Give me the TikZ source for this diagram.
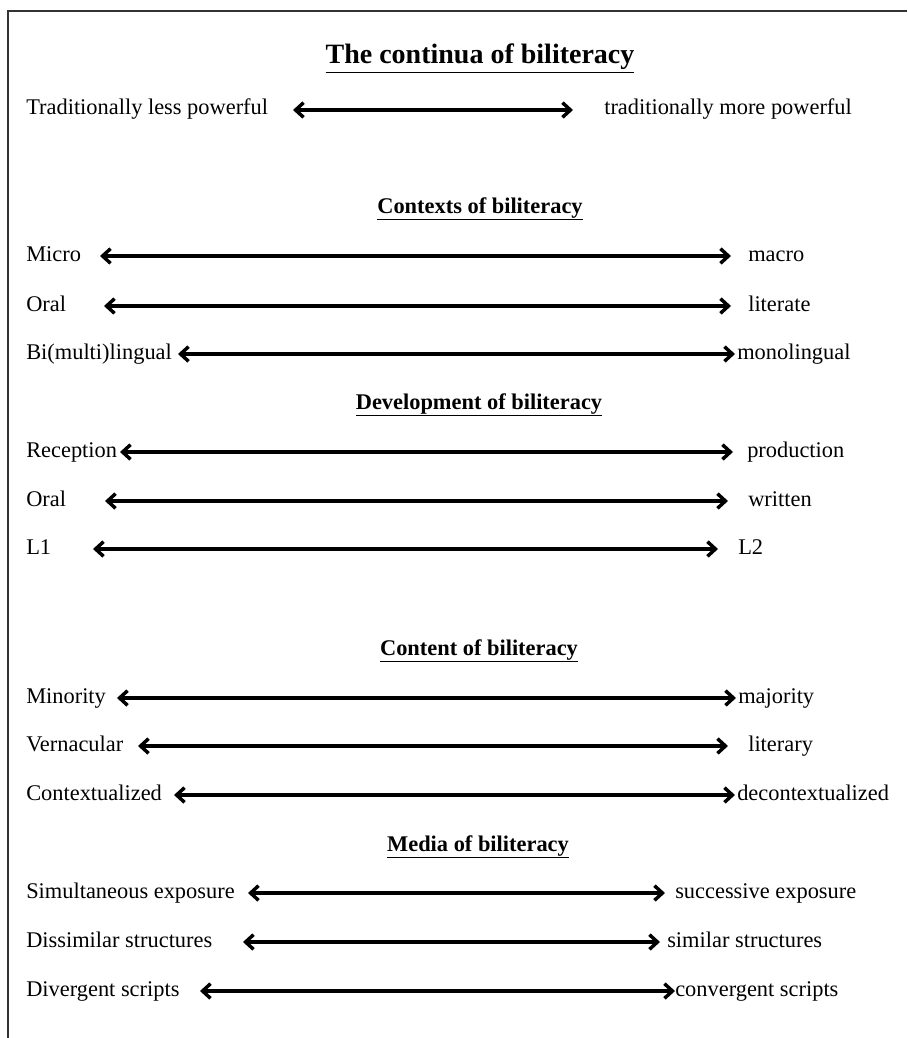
\documentclass[tikz,border=0pt]{standalone}
\usepackage{fontspec}
\setmainfont{Liberation Serif}
\usetikzlibrary{arrows.meta}
\begin{document}
\begin{tikzpicture}[x=0.75pt,y=-0.75pt,
  lbl/.style={anchor=base west,inner sep=0pt,font=\fontsize{16.8}{19}\selectfont},
  hd/.style={anchor=base,inner sep=0pt,font=\fontsize{16.8}{19}\selectfont\bfseries},
  ttl/.style={anchor=base,inner sep=0pt,font=\fontsize{21}{25}\selectfont\bfseries},
  dbl/.style={line width=2.6pt,
    {Straight Barb[length=6pt,width=11pt]}-{Straight Barb[length=6pt,width=11pt]}},
  frame/.style={line width=1.5pt,draw=black!80}]
\useasboundingbox (0,0) rectangle (907,1038);
\draw[frame] (907,11) -- (8,11) -- (8,1038);

\node[ttl] (title) at (480,64) {\underline{The continua of biliteracy}};

% top row
\node[lbl] (tl) at (26,115) {Traditionally less powerful};
\node[lbl] (tr) at (604,115) {traditionally more powerful};
\coordinate (t1) at (293,110); \coordinate (t2) at (573,110);
\draw[dbl] (t1) -- (t2);

% Contexts
\node[hd] (h1) at (480,213) {\underline{Contexts of biliteracy}};
\node[lbl] (c1l) at (26,261) {Micro};
\node[lbl] (c1r) at (748,261) {macro};
\coordinate (c1a) at (100,256); \coordinate (c1b) at (731,256);
\draw[dbl] (c1a) -- (c1b);
\node[lbl] (c2l) at (26,311) {Oral};
\node[lbl] (c2r) at (748,311) {literate};
\coordinate (c2a) at (104,306); \coordinate (c2b) at (731,306);
\draw[dbl] (c2a) -- (c2b);
\node[lbl] (c3l) at (26,359) {Bi(multi)lingual};
\node[lbl] (c3r) at (737,359) {monolingual};
\coordinate (c3a) at (178,354); \coordinate (c3b) at (735,354);
\draw[dbl] (c3a) -- (c3b);

% Development
\node[hd] (h2) at (479,409) {\underline{Development of biliteracy}};
\node[lbl] (d1l) at (26,457) {Reception};
\node[lbl] (d1r) at (747,457) {production};
\coordinate (d1a) at (120,452); \coordinate (d1b) at (733,452);
\draw[dbl] (d1a) -- (d1b);
\node[lbl] (d2l) at (26,506) {Oral};
\node[lbl] (d2r) at (748,506) {written};
\coordinate (d2a) at (105,501); \coordinate (d2b) at (728,501);
\draw[dbl] (d2a) -- (d2b);
\node[lbl] (d3l) at (26,554) {L1};
\node[lbl] (d3r) at (738,554) {L2};
\coordinate (d3a) at (93,549); \coordinate (d3b) at (718,549);
\draw[dbl] (d3a) -- (d3b);

% Content
\node[hd] (h3) at (479,655) {\underline{Content of biliteracy}};
\node[lbl] (n1l) at (26,703) {Minority};
\node[lbl] (n1r) at (738,703) {majority};
\coordinate (n1a) at (117,698); \coordinate (n1b) at (736,698);
\draw[dbl] (n1a) -- (n1b);
\node[lbl] (n2l) at (26,751) {Vernacular};
\node[lbl] (n2r) at (748,751) {literary};
\coordinate (n2a) at (138,746); \coordinate (n2b) at (728,746);
\draw[dbl] (n2a) -- (n2b);
\node[lbl] (n3l) at (26,800) {Contextualized};
\node[lbl] (n3r) at (737,800) {decontextualized};
\coordinate (n3a) at (174,795); \coordinate (n3b) at (735,795);
\draw[dbl] (n3a) -- (n3b);

% Media
\node[hd] (h4) at (478,851) {\underline{Media of biliteracy}};
\node[lbl] (m1l) at (26,898) {Simultaneous exposure};
\node[lbl] (m1r) at (675,898) {successive exposure};
\coordinate (m1a) at (248,893); \coordinate (m1b) at (665,893);
\draw[dbl] (m1a) -- (m1b);
\node[lbl] (m2l) at (26,947) {Dissimilar structures};
\node[lbl] (m2r) at (667,947) {similar structures};
\coordinate (m2a) at (243,942); \coordinate (m2b) at (660,942);
\draw[dbl] (m2a) -- (m2b);
\node[lbl] (m3l) at (26,996) {Divergent scripts};
\node[lbl] (m3r) at (675,996) {convergent scripts};
\coordinate (m3a) at (200,991); \coordinate (m3b) at (675,991);
\draw[dbl] (m3a) -- (m3b);
\end{tikzpicture}
\end{document}
